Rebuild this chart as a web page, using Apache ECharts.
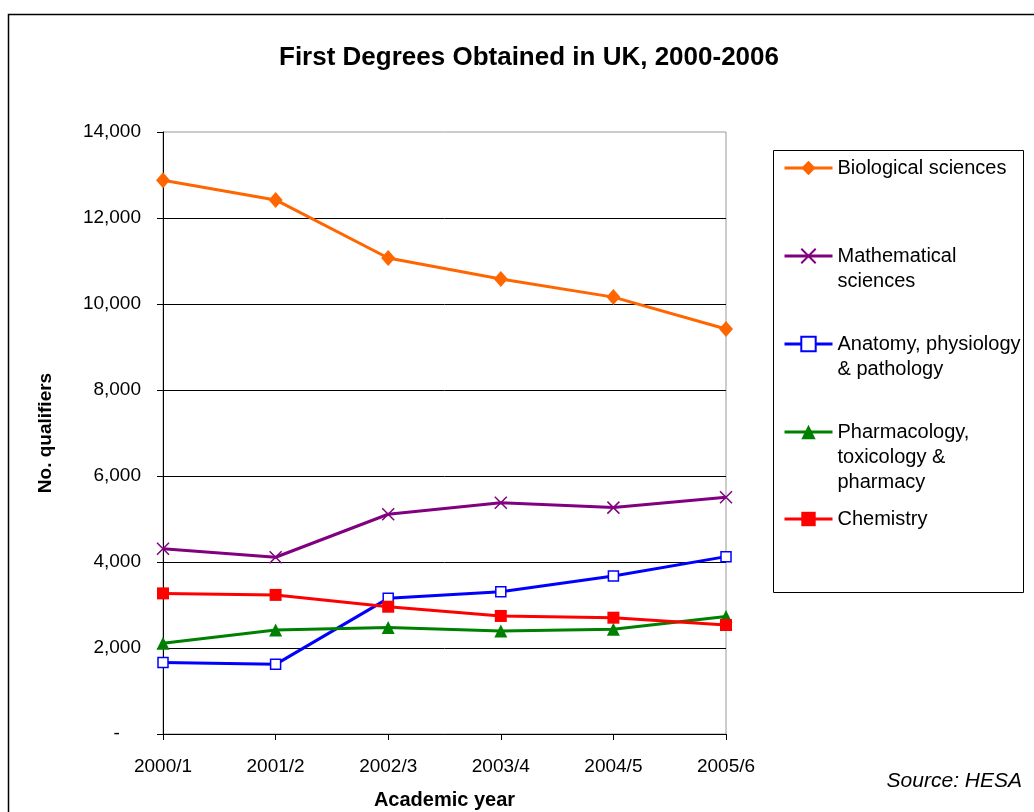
<!DOCTYPE html>
<html>
<head>
<meta charset="utf-8">
<script src="https://cdn.jsdelivr.net/npm/echarts@6/dist/echarts.min.js"></script>
<style>html,body{margin:0;padding:0;background:#fff;}#c{width:1034px;height:812px;}</style>
</head>
<body>
<div id="c"></div>
<script>
var categories = ['2000/1', '2001/2', '2002/3', '2003/4', '2004/5', '2005/6'];
var biological = [12880, 12420, 11070, 10580, 10160, 9420];
var mathematical = [4310, 4110, 5110, 5380, 5265, 5505];
var anatomy = [1660, 1620, 3155, 3310, 3675, 4125];
var pharmacology = [2110, 2420, 2475, 2395, 2435, 2730];
var chemistry = [3270, 3235, 2960, 2745, 2705, 2535];
var yTicks = [0, 2000, 4000, 6000, 8000, 10000, 12000, 14000];

var names = ['Biological sciences', 'Mathematical sciences', 'Anatomy, physiology & pathology', 'Pharmacology, toxicology & pharmacy', 'Chemistry'];
var legendText = {
  'Biological sciences': 'Biological sciences',
  'Mathematical sciences': ' \nMathematical\nsciences',
  'Anatomy, physiology & pathology': ' \nAnatomy, physiology\n& pathology',
  'Pharmacology, toxicology & pharmacy': ' \n \nPharmacology,\ntoxicology &\npharmacy',
  'Chemistry': 'Chemistry'
};
var legendCenters = [168, 256, 344, 432, 519];
var legendLines = [1, 3, 3, 5, 1];
var LH = 25;

var chart = echarts.init(document.getElementById('c'));
var FONT = '"Liberation Sans", Arial, sans-serif';

function fmtY(v) {
  if (v === 0) return '-    ';
  return v.toLocaleString('en-US');
}

var legends = names.map(function (n, i) {
  return {
    data: [n],
    orient: 'vertical',
    left: 783,
    top: legendCenters[i] - legendLines[i] * LH / 2,
    padding: 0,
    itemWidth: 48,
    itemHeight: 18,
    selectedMode: false,
    lineStyle: { width: 3 },
    formatter: function (name) { return legendText[name]; },
    textStyle: { fontFamily: FONT, fontSize: 20, color: '#000', lineHeight: LH }
  };
});

var option = {
  backgroundColor: '#fff',
  animation: false,
  title: {
    text: 'First Degrees Obtained in UK, 2000-2006',
    left: 529, top: 45, textAlign: 'center', padding: 0,
    textStyle: { fontFamily: FONT, fontSize: 26, fontWeight: 'bold', color: '#000' }
  },
  legend: legends,
  grid: { left: 163, right: 308, top: 132, bottom: 78, show: true, borderColor: '#999', borderWidth: 1, containLabel: false, outerBoundsMode: 'none' },
  xAxis: {
    type: 'category',
    data: categories,
    boundaryGap: false,
    name: 'Academic year',
    nameLocation: 'middle',
    nameGap: 56,
    nameTextStyle: { fontFamily: FONT, fontSize: 20, fontWeight: 'bold', color: '#000' },
    axisLine: { lineStyle: { color: '#000', width: 1 } },
    axisTick: { show: true, length: 6, lineStyle: { color: '#000' }, alignWithLabel: true },
    axisLabel: { fontFamily: FONT, fontSize: 19, color: '#000', margin: 23 },
    splitLine: { show: false }
  },
  yAxis: {
    type: 'value',
    min: 0, max: 14000, interval: 2000,
    name: 'No. qualifiers',
    nameLocation: 'middle',
    nameGap: 108,
    nameRotate: 90,
    nameTextStyle: { fontFamily: FONT, fontSize: 19, fontWeight: 'bold', color: '#000' },
    axisLine: { show: true, lineStyle: { color: '#000', width: 1 } },
    axisTick: { show: true, length: 6, lineStyle: { color: '#000' } },
    axisLabel: { fontFamily: FONT, fontSize: 19, color: '#000', margin: 22, formatter: fmtY },
    splitLine: { show: true, showMaxLine: false, lineStyle: { color: '#000', width: 1 } }
  },
  graphic: [
    { type: 'rect', shape: { x: 8.5, y: 14.5, width: 1100, height: 900 }, style: { fill: 'none', stroke: '#000', lineWidth: 1.5 }, z: -1 },
    { type: 'rect', shape: { x: 773.5, y: 150.5, width: 250, height: 442 }, style: { fill: 'none', stroke: '#000', lineWidth: 1 } },
    { type: 'text', right: 12, top: 771, style: { text: 'Source: HESA', font: 'italic 21px "Liberation Sans", Arial, sans-serif', fill: '#000' } }
  ],
  series: [
    {
      name: names[0], type: 'line', data: biological,
      symbol: 'diamond', symbolSize: [14, 16],
      lineStyle: { color: '#FF6600', width: 3 },
      itemStyle: { color: '#FF6600' }
    },
    {
      name: names[1], type: 'line', data: mathematical,
      symbol: 'path://M0,0L10,10M10,0L0,10', symbolSize: 12,
      lineStyle: { color: '#800080', width: 3 },
      itemStyle: { color: '#800080', borderColor: '#800080', borderWidth: 1.5 }
    },
    {
      name: names[2], type: 'line', data: anatomy,
      symbol: 'rect', symbolSize: 10,
      lineStyle: { color: '#0000FF', width: 3 },
      itemStyle: { color: '#fff', borderColor: '#0000FF', borderWidth: 1.5 }
    },
    {
      name: names[3], type: 'line', data: pharmacology,
      symbol: 'triangle', symbolSize: 13,
      lineStyle: { color: '#008000', width: 3 },
      itemStyle: { color: '#008000' }
    },
    {
      name: names[4], type: 'line', data: chemistry,
      symbol: 'rect', symbolSize: 12,
      lineStyle: { color: '#FF0000', width: 3 },
      itemStyle: { color: '#FF0000' }
    }
  ]
};
chart.setOption(option);
</script>
</body>
</html>
